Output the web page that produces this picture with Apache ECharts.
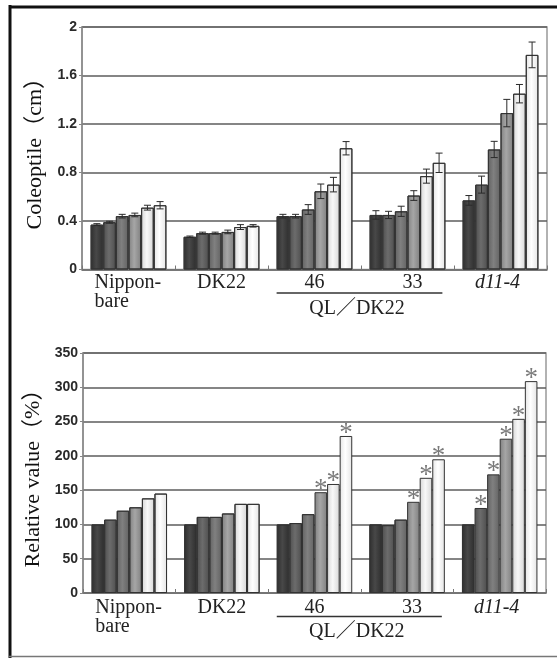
<!DOCTYPE html>
<html><head><meta charset="utf-8">
<script src="https://cdn.jsdelivr.net/npm/echarts@6/dist/echarts.min.js"></script>
<style>html,body{margin:0;padding:0;background:#fff}#c{width:557px;height:658px}</style>
</head><body><div id="c"></div>
<script>
// ---- data ----
const categories = ['Nippon-\nbare', 'DK22', '46', '33', 'd11-4'];
const groupLabel = 'QL／DK22';
// Coleoptile length (cm), 6 bars per group
const colNippon = [0.37, 0.39, 0.44, 0.45, 0.51, 0.53];
const colDK22   = [0.27, 0.30, 0.30, 0.31, 0.35, 0.36];
const col46     = [0.44, 0.44, 0.495, 0.645, 0.70, 1.00];
const col33     = [0.45, 0.45, 0.48, 0.61, 0.77, 0.88];
const colD11    = [0.57, 0.70, 0.99, 1.29, 1.45, 1.77];
// error bars (cm)
const errNippon = [0.008, 0.008, 0.015, 0.015, 0.02, 0.03];
const errDK22   = [0.006, 0.008, 0.008, 0.015, 0.02, 0.01];
const err46     = [0.015, 0.015, 0.04, 0.06, 0.06, 0.055];
const err33     = [0.035, 0.03, 0.042, 0.04, 0.058, 0.08];
const errD11    = [0.04, 0.07, 0.067, 0.113, 0.076, 0.106];
// Relative value (%)
const relNippon = [100, 107, 120, 125, 138, 145];
const relDK22   = [100, 111, 111, 116, 130, 130];
const rel46     = [100, 102, 115, 147, 159, 229];
const rel33     = [100, 99, 107, 133, 168, 195];
const relD11    = [100, 124, 173, 225, 254, 309];
// significance marks (asterisks)
const sigNippon = [0, 0, 0, 0, 0, 0];
const sigDK22   = [0, 0, 0, 0, 0, 0];
const sig46     = [0, 0, 0, 1, 1, 1];
const sig33     = [0, 0, 0, 1, 1, 1];
const sigD11    = [0, 1, 1, 1, 1, 1];

const colGroups = [colNippon, colDK22, col46, col33, colD11];
const errGroups = [errNippon, errDK22, err46, err33, errD11];
const relGroups = [relNippon, relDK22, rel46, rel33, relD11];
const sigGroups = [sigNippon, sigDK22, sig46, sig33, sigD11];

// ---- styles ----
const fills = [
  ['#2e2e2e', '#484848'],
  ['#4e4e4e', '#6c6c6c'],
  ['#626262', '#808080'],
  ['#808080', '#a6a6a6'],
  ['#d6d6d6', '#f8f8f8'],
  ['#e4e4e4', '#ffffff']
];
const SERIF = "'Liberation Serif','Times New Roman','Noto Sans CJK SC',serif";
const SANS = "'Liberation Sans',Arial,sans-serif";
const GAP = 0.185;

function grad(i) {
  return new echarts.graphic.LinearGradient(0, 0, 1, 0, [
    {offset: 0, color: fills[i][0]},
    {offset: 0.45, color: fills[i][1]},
    {offset: 1, color: fills[i][0]}
  ]);
}

function catItem(c) {
  if (c === 'd11-4') return {value: c, textStyle: {fontStyle: 'italic', padding: [0, 6, 0, 0]}};
  if (c === '33') return {value: c, textStyle: {padding: [0, 0, 0, 10]}};
  return c;
}

function xAxisDef(gridIndex, margin) {
  return {
    type: 'category', gridIndex: gridIndex,
    data: categories.map(catItem),
    axisLine: {lineStyle: {color: '#777', width: 1.5}},
    axisTick: {show: true, inside: true, length: 4, lineStyle: {color: '#777'}},
    axisLabel: {
      interval: 0, hideOverlap: false,
      margin: margin, color: '#222', fontFamily: SERIF, fontSize: 20, lineHeight: 19,
      formatter: function (v) {
        if (v.indexOf('\n') >= 0) {
          return v.split('\n').map(s => '{l|' + s + '}').join('\n');
        }
        return v;
      },
      rich: {l: {width: 68, align: 'left', fontFamily: SERIF, fontSize: 20, lineHeight: 19, color: '#222'}}
    },
    splitLine: {show: false}
  };
}
function yAxisDef(gridIndex, max, interval, name, gap) {
  return {
    type: 'value', gridIndex: gridIndex, min: 0, max: max, interval: interval,
    name: name, nameLocation: 'middle', nameGap: gap, nameRotate: 90,
    nameTextStyle: {fontFamily: SERIF, fontSize: 22, color: '#111'},
    axisLine: {show: true, lineStyle: {color: '#888', width: 1.5}},
    axisTick: {show: true, length: 3, lineStyle: {color: '#888'}},
    axisLabel: {color: '#2a2a2a', fontFamily: SANS, fontSize: 14, fontWeight: 'bold', margin: 5},
    splitLine: {show: true, lineStyle: {color: '#5c5c5c', width: 1.5}}
  };
}

const series = [];
for (let i = 0; i < 6; i++) {
  series.push({
    type: 'bar', xAxisIndex: 0, yAxisIndex: 0,
    barGap: '0%', barCategoryGap: (GAP * 100) + '%',
    itemStyle: {color: grad(i), borderColor: '#333', borderWidth: 1},
    data: colGroups.map(g => g[i]), z: 2
  });
}
const errData = [];
colGroups.forEach((g, c) => g.forEach((v, i) => errData.push([c, v, errGroups[c][i], i])));
series.push({
  type: 'custom', xAxisIndex: 0, yAxisIndex: 0, z: 5,
  encode: {x: 0, y: 1},
  data: errData,
  renderItem: function (params, api) {
    const cat = api.value(0), v = api.value(1), e = api.value(2), s = api.value(3);
    const band = api.size([1, 0])[0];
    const bw = band * (1 - GAP) / 6;
    const x = api.coord([cat, v])[0] + (s - 2.5) * bw;
    const top = api.coord([cat, v + e])[1];
    const bot = api.coord([cat, v - e])[1];
    const hw = 3.5;
    const st = {stroke: '#2a2a2a', lineWidth: 1};
    return {type: 'group', children: [
      {type: 'line', shape: {x1: x, y1: top, x2: x, y2: bot}, style: st},
      {type: 'line', shape: {x1: x - hw, y1: top, x2: x + hw, y2: top}, style: st},
      {type: 'line', shape: {x1: x - hw, y1: bot, x2: x + hw, y2: bot}, style: st}
    ]};
  }
});
for (let i = 0; i < 6; i++) {
  series.push({
    type: 'bar', xAxisIndex: 1, yAxisIndex: 1,
    barGap: '0%', barCategoryGap: (GAP * 100) + '%',
    itemStyle: {color: grad(i), borderColor: '#333', borderWidth: 1},
    label: {show: false, position: 'top', distance: -5, formatter: '*',
      color: '#7a7a7a', fontSize: 27, lineHeight: 14, fontFamily: SERIF},
    data: relGroups.map((g, c) => ({value: g[i], label: {show: !!sigGroups[c][i]}})), z: 2
  });
}

const option = {
  animation: false,
  backgroundColor: '#fff',
  grid: [
    {left: 82, top: 27, width: 465, height: 242.5, show: true, borderColor: '#999', borderWidth: 1.5, backgroundColor: 'transparent'},
    {left: 83, top: 353, width: 463, height: 240, show: true, borderColor: '#999', borderWidth: 1.5, backgroundColor: 'transparent'}
  ],
  xAxis: [xAxisDef(0, 4), xAxisDef(1, 5)],
  yAxis: [
    yAxisDef(0, 2, 0.4, 'Coleoptile（cm）', 34),
    yAxisDef(1, 350, 50, 'Relative value（%）', 39)
  ],
  series: series
};

const chart = echarts.init(document.getElementById('c'), null, {renderer: 'canvas'});
chart.setOption(option);

// annotation: bracket line + group label under categories 46 & 33, plus outer frame
const graphics = [
  {type: 'line', shape: {x1: 10, y1: 5, x2: 10, y2: 658}, style: {stroke: '#111', lineWidth: 3}},
  {type: 'line', shape: {x1: 9, y1: 7, x2: 557, y2: 7}, style: {stroke: '#111', lineWidth: 3}},
  {type: 'line', shape: {x1: 9, y1: 656.5, x2: 557, y2: 656.5}, style: {stroke: '#777', lineWidth: 1.5}}
];
[0, 1].forEach(function (gi) {
  const fin = {xAxisIndex: gi, yAxisIndex: gi};
  const a = chart.convertToPixel(fin, [2, 0]);
  const b = chart.convertToPixel(fin, [3, 0]);
  const band = b[0] - a[0];
  const half = band * (1 - GAP) / 2;
  const x1 = a[0] - half, x2 = b[0] + half - 3;
  const y0 = a[1];
  graphics.push({type: 'line', shape: {x1: x1, y1: y0 + 23.5, x2: x2, y2: y0 + 23.5},
    style: {stroke: '#333', lineWidth: 1.5}});
  graphics.push({type: 'text', x: (a[0] + b[0]) / 2 - 4, y: y0 + 39,
    style: {text: groupLabel, font: '20px ' + SERIF, fill: '#222', align: 'center', verticalAlign: 'middle'}});
});
chart.setOption({graphic: graphics});
</script></body></html>
